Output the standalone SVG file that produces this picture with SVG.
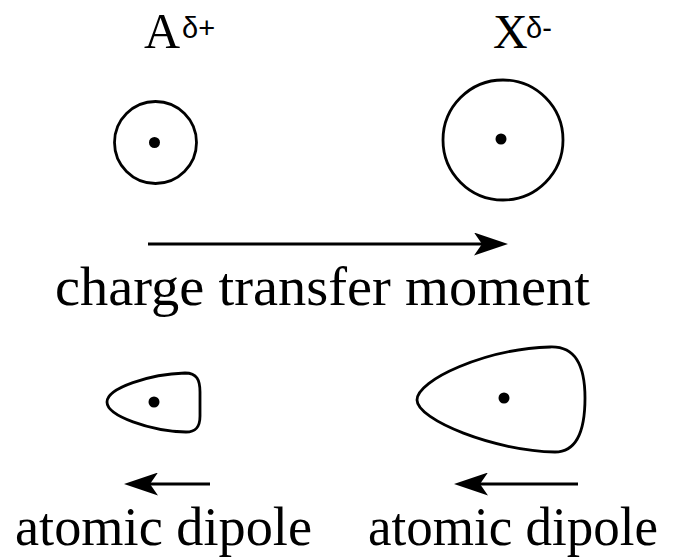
<svg xmlns="http://www.w3.org/2000/svg" width="675" height="560" viewBox="0 0 675 560">
<style>
.shape{fill:none;stroke:#000;stroke-width:2.8}
.dot{fill:#000}
.conn{stroke:#000;stroke-width:2.8;fill:none}
.lbl{font-family:"Liberation Serif","Times New Roman",serif;fill:#000}
.sup{font-family:"Liberation Sans",Arial,sans-serif;fill:#000;font-size:29px}
</style>
<defs>
<marker id="ah" viewBox="0 0 34 23" refX="8" refY="11.5" markerWidth="34" markerHeight="23" markerUnits="userSpaceOnUse" orient="auto">
<path d="M0,0 L34,11.5 L0,23 L8,11.5 Z" fill="#000"/>
</marker>
</defs>
<rect width="675" height="560" fill="#fff"/>
<g id="labelA">
<text class="lbl" x="144" y="48" font-size="50">A</text>
<text class="sup" x="182" y="38">δ+</text>
</g>
<g id="labelX">
<text class="lbl" x="493" y="48" font-size="48">X</text>
<text class="sup" x="526" y="38">δ-</text>
</g>
<g id="atomA">
<circle class="shape" cx="155.5" cy="142.5" r="41"/>
<circle class="dot" cx="154.5" cy="142.5" r="5.5"/>
</g>
<g id="atomX">
<circle class="shape" cx="503" cy="140" r="60"/>
<circle class="dot" cx="501" cy="139" r="5.5"/>
</g>
<g id="dipoleA">
<path class="shape" d="M107,402 C107,388 150,374 185,373 C197,373 200,380 200,392 L200,416 C200,427 196,432 186,432 C150,431 107,416 107,402 Z"/>
<circle class="dot" cx="154" cy="402" r="5.5"/>
</g>
<g id="dipoleX">
<path class="shape" d="M417,400 C417,380 485,349 550,347 C575,346 585,365 585,398 C585,435 575,452 555,452 C495,451 417,420 417,400 Z"/>
<circle class="dot" cx="504" cy="398" r="5.5"/>
</g>
<g id="connectors">
<line class="conn" x1="148" y1="244" x2="482" y2="244" marker-end="url(#ah)"/>
<line class="conn" x1="210" y1="484" x2="150" y2="484" marker-end="url(#ah)"/>
<line class="conn" x1="578" y1="484" x2="480" y2="484" marker-end="url(#ah)"/>
</g>
<g id="texts">
<text class="lbl" x="55" y="305" font-size="54" textLength="535" lengthAdjust="spacingAndGlyphs">charge transfer moment</text>
<text class="lbl" x="15" y="545" font-size="54" textLength="297" lengthAdjust="spacingAndGlyphs">atomic dipole</text>
<text class="lbl" x="368" y="545" font-size="54" textLength="290" lengthAdjust="spacingAndGlyphs">atomic dipole</text>
</g>
</svg>
